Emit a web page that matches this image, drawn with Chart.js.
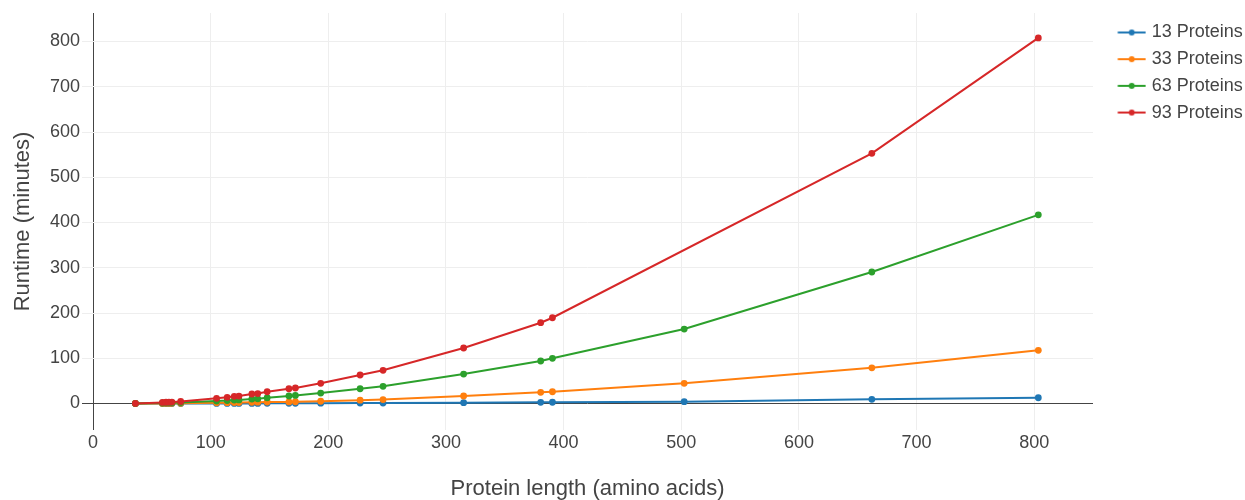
<!DOCTYPE html>
<html>
<head>
<meta charset="utf-8">
<script src="https://cdn.jsdelivr.net/npm/chart.js@4.4.1/dist/chart.umd.min.js"></script>
<style>
  html, body { margin: 0; padding: 0; background: #fff; }
  #wrap { width: 1245px; height: 500px; }
</style>
</head>
<body>
<div id="wrap"><canvas id="c" width="1245" height="500"></canvas></div>
<script>
// Protein lengths (amino acids)
const proteinLengths = [36, 59, 62, 64.5, 67, 74.5, 105, 114, 120, 124, 135, 140, 148, 166.5, 172, 193.5, 227, 246.5, 315, 380.5, 390.5, 502.5, 662, 803.5];

// Runtime (minutes) per series
const runtime13 = [0.005, 0.04, 0.04, 0.05, 0.05, 0.07, 0.17, 0.2, 0.24, 0.25, 0.3, 0.33, 0.4, 0.5, 0.55, 0.7, 0.95, 1.1, 1.8, 2.7, 2.8, 4, 9.3, 12.8];
const runtime33 = [0.04, 0.3, 0.35, 0.4, 0.42, 0.6, 1.5, 1.8, 2.1, 2.2, 2.8, 2.9, 3.4, 3.6, 3.9, 5, 7.5, 8.8, 16.6, 24.8, 26, 44.6, 79, 117.6];
const runtime63 = [0.15, 1.2, 1.4, 1.5, 1.6, 2.2, 5.5, 6.5, 7.7, 8, 10, 10.5, 12.8, 16.6, 18, 23.2, 32.7, 38, 65, 94, 100, 164.6, 290.6, 417];
const runtime93 = [0.3, 2.5, 2.8, 3, 3.3, 4.5, 11.5, 13.7, 16, 16.5, 21, 22, 26, 32.7, 34.3, 44.6, 63, 73.4, 122.7, 178.6, 189.6, null, 553, 808];

const seriesLabels = ['13 Proteins', '33 Proteins', '63 Proteins', '93 Proteins'];
const seriesValues = [runtime13, runtime33, runtime63, runtime93];
const seriesColors = ['#1f77b4', '#ff7f0e', '#2ca02c', '#d62728'];

const xTickStep = 100;
const yTickStep = 100;

const FONT = "'Liberation Sans', Arial, sans-serif";
const TEXT = '#444';

function legendIcon(color) {
  const dpr = window.devicePixelRatio || 1;
  const w = 48, h = 10;
  const c = document.createElement('canvas');
  c.width = w * dpr; c.height = h * dpr;
  const g = c.getContext('2d');
  g.scale(dpr, dpr);
  g.strokeStyle = color; g.lineWidth = 2;
  g.beginPath(); g.moveTo(19.5, h / 2); g.lineTo(47.5, h / 2); g.stroke();
  g.fillStyle = color;
  g.beginPath(); g.arc(33.5, h / 2, 3, 0, Math.PI * 2); g.fill();
  const img = new Image();
  img.width = w; img.height = h;
  img.src = c.toDataURL();
  return img;
}
const icons = seriesColors.map(legendIcon);

const datasets = seriesLabels.map((label, i) => ({
  label,
  data: proteinLengths.map((x, j) => ({ x, y: seriesValues[i][j] })),
  borderColor: seriesColors[i],
  backgroundColor: seriesColors[i],
  pointBackgroundColor: seriesColors[i],
  pointBorderWidth: 0,
  pointRadius: 3.4,
  borderWidth: 2,
  tension: 0,
  spanGaps: true,
  order: seriesLabels.length - 1 - i
}));

function draw() {
  new Chart(document.getElementById('c'), {
    type: 'line',
    data: { datasets },
    options: {
      responsive: false,
      animation: false,
      events: [],
      layout: { padding: { top: 13, left: 0, right: 0, bottom: 0 } },
      plugins: {
        tooltip: { enabled: false },
        legend: {
          position: 'right',
          align: 'start',
          maxWidth: 152,
          title: {
            display: true,
            text: '',
            font: { size: 1, lineHeight: 1 },
            padding: { top: 0.75, bottom: 0 }
          },
          labels: {
            font: { family: FONT, size: 18 },
            color: TEXT,
            padding: 8.7,
            usePointStyle: true,
            pointStyleWidth: 41,
            boxHeight: 18,
            sort: (a, b) => a.datasetIndex - b.datasetIndex,
            generateLabels: (chart) => {
              const items = Chart.defaults.plugins.legend.labels.generateLabels(chart);
              return items.map((it) => Object.assign(it, { pointStyle: icons[it.datasetIndex] }));
            }
          }
        }
      },
      scales: {
        x: {
          type: 'linear',
          min: -9.4,
          max: 850,
          afterFit: (s) => { s.height = 70; },
          border: { display: false },
          grid: {
            drawTicks: false,
            lineWidth: 1,
            color: (ctx) => (ctx.tick && ctx.tick.value === 0) ? '#444' : '#eee'
          },
          ticks: {
            stepSize: xTickStep,
            includeBounds: false,
            maxRotation: 0,
            padding: 2,
            color: TEXT,
            font: { family: FONT, size: 18 }
          },
          title: {
            display: true,
            text: 'Protein length (amino acids)',
            color: TEXT,
            font: { family: FONT, size: 22, lineHeight: 1 },
            padding: { top: 0, bottom: 0 }
          }
        },
        y: {
          type: 'linear',
          min: -58.5,
          max: 863,
          afterFit: (s) => { s.width = 82; },
          border: { display: false },
          grid: {
            drawTicks: false,
            lineWidth: 1,
            color: (ctx) => (ctx.tick && ctx.tick.value === 0) ? '#444' : '#eee'
          },
          ticks: {
            stepSize: yTickStep,
            includeBounds: false,
            padding: 2,
            color: TEXT,
            font: { family: FONT, size: 18 }
          },
          title: {
            display: true,
            text: 'Runtime (minutes)',
            color: TEXT,
            font: { family: FONT, size: 22, lineHeight: 1 },
            padding: { top: 12, bottom: 0 }
          }
        }
      }
    }
  });
}
Promise.all(icons.map(im => im.decode ? im.decode().catch(() => {}) : Promise.resolve())).then(draw);
</script>
</body>
</html>
